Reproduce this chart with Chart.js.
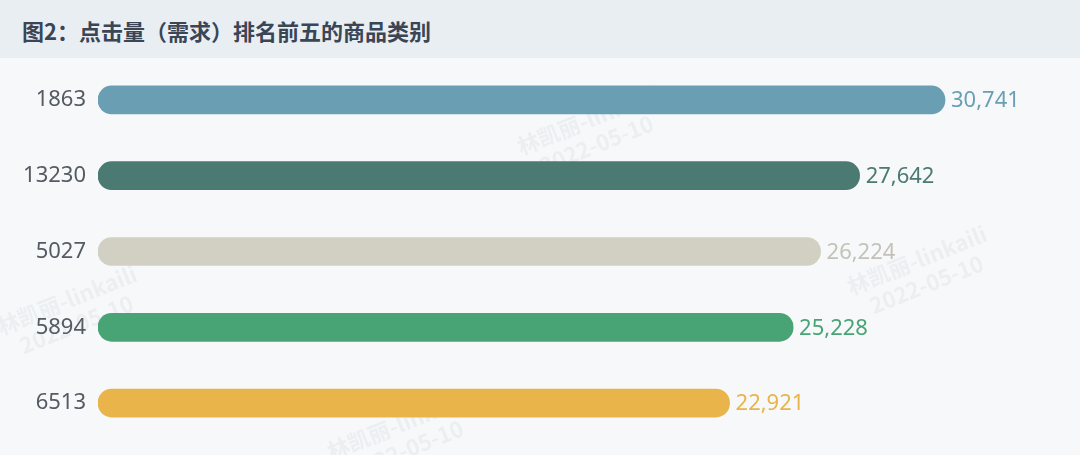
<!DOCTYPE html>
<html lang="zh">
<head>
    <meta charset="UTF-8">
    <title>点击量排名前五的商品类别</title>
    <script src="https://cdn.jsdelivr.net/npm/chart.js"></script>
    <style>
        html, body { margin: 0; padding: 0; background: #f6f8fa; overflow: hidden; }
        #head {
            height: 58px; background: #e9eef2; box-sizing: border-box;
            padding-left: 22px;
            font: bold 22px "Noto Sans CJK SC", sans-serif; color: #3a4556;
            line-height: 60px;
        }
        canvas { display: block; }
    </style>
</head>
<body>
<div id="head">图2：点击量（需求）排名前五的商品类别</div>
<canvas id="chart" width="1080" height="397"></canvas>

<script>
    // categories and click counts, top to bottom
    const categories = ['1863', '13230', '5027', '5894', '6513'];
    const clicks = [30741, 27642, 26224, 25228, 22921];
    const barColors = ['#6a9fb3', '#4b7a72', '#d2cfc3', '#48a474', '#e9b44a'];
    const labelColors = ['#6a9fb3', '#4b7a72', '#c4c2b8', '#48a474', '#e9b44a'];

    // value label at the end of each bar
    const endLabels = {
        id: 'endLabels',
        afterDatasetsDraw(chart) {
            const ctx = chart.ctx;
            const meta = chart.getDatasetMeta(0);
            ctx.save();
            ctx.font = '22px "Noto Sans", sans-serif';
            ctx.textBaseline = 'middle';
            ctx.textAlign = 'left';
            meta.data.forEach((bar, i) => {
                ctx.fillStyle = labelColors[i];
                ctx.fillText(clicks[i].toLocaleString('en-US'), bar.x + 6, bar.y + 1);
            });
            ctx.restore();
        }
    };

    // faint watermark
    const watermark = {
        id: 'watermark',
        beforeDraw(chart) {
            const ctx = chart.ctx;
            const spots = [[590, 70], [920, 210], [70, 250], [400, 375]];
            ctx.save();
            ctx.fillStyle = 'rgba(180,185,195,0.14)';
            ctx.font = 'bold 22px "Noto Sans CJK SC", sans-serif';
            ctx.textAlign = 'center';
            spots.forEach(([x, y]) => {
                ctx.save();
                ctx.translate(x, y);
                ctx.rotate(-0.38);
                ctx.fillText('林凯丽-linkaili', 0, 0);
                ctx.fillText('2022-05-10', 0, 26);
                ctx.restore();
            });
            ctx.restore();
        }
    };

    new Chart(document.getElementById('chart'), {
        type: 'bar',
        data: {
            labels: categories,
            datasets: [{
                data: clicks,
                backgroundColor: barColors,
                borderRadius: 14,
                borderSkipped: false,
                barThickness: 28
            }]
        },
        options: {
            responsive: false,
            indexAxis: 'y',
            animation: false,
            layout: { padding: { top: 4, bottom: 14, left: 0, right: 0 } },
            plugins: { legend: { display: false }, tooltip: { enabled: false } },
            scales: {
                x: {
                    min: 0, max: 35640,
                    display: false
                },
                y: {
                    grid: { display: false, drawTicks: false },
                    border: { display: false },
                    afterFit(scale) {
                        scale.width = 98;
                        scale.paddingTop = 0;
                        scale.paddingBottom = 0;
                    },
                    ticks: {
                        color: '#555b63',
                        padding: 12,
                        font: { size: 22, family: '"Noto Sans", sans-serif' }
                    }
                }
            }
        },
        plugins: [watermark, endLabels]
    });
</script>
</body>
</html>
